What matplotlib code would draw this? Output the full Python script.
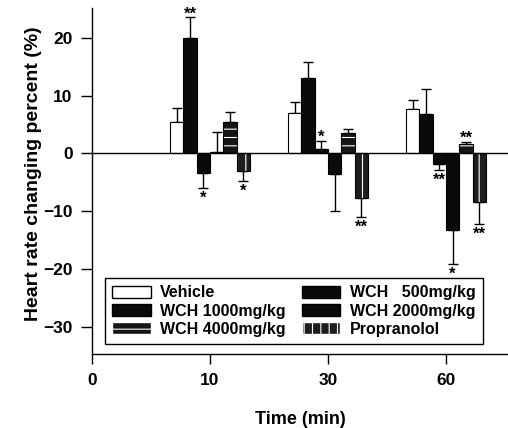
import matplotlib
matplotlib.use("Agg")
import matplotlib.pyplot as plt
import matplotlib.patches as mpatches
import numpy as np

# time points (min) and treatment groups
times = ["0", "10", "30", "60"]
groups = ["Vehicle", "WCH   500mg/kg", "WCH 1000mg/kg", "WCH 2000mg/kg",
          "WCH 4000mg/kg", "Propranolol"]

# mean heart rate change (%) at 10, 30, 60 min, one list per group
vehicle = [5.4, 6.9, 7.7]
wch500 = [19.9, 13.0, 6.8]
wch1000 = [-3.4, 0.8, -1.8]
wch2000 = [0.3, -3.5, -13.2]
wch4000 = [5.4, 3.5, 1.6]
propranolol = [-3.0, -7.7, -8.4]

# SEM
vehicle_err = [2.4, 2.0, 1.5]
wch500_err = [3.6, 2.8, 4.3]
wch1000_err = [2.5, 1.4, 1.0]
wch2000_err = [3.4, 6.4, 5.9]
wch4000_err = [1.8, 0.7, 0.4]
propranolol_err = [1.8, 3.2, 3.8]

# significance marks
vehicle_sig = ["", "", ""]
wch500_sig = ["**", "", ""]
wch1000_sig = ["*", "*", "**"]
wch2000_sig = ["", "", "*"]
wch4000_sig = ["", "", "**"]
propranolol_sig = ["*", "**", "**"]

values = [vehicle, wch500, wch1000, wch2000, wch4000, propranolol]
errors = [vehicle_err, wch500_err, wch1000_err, wch2000_err, wch4000_err, propranolol_err]
sigs = [vehicle_sig, wch500_sig, wch1000_sig, wch2000_sig, wch4000_sig, propranolol_sig]

# look of each group: face, hatch
styles = [("white", None), ("#0a0a0a", None), ("#0a0a0a", None), ("#0a0a0a", None),
          ("#151515", "--"), ("#1e1e1e", "||")]

plt.rcParams["font.family"] = ["Liberation Sans", "DejaVu Sans"]
plt.rcParams["font.weight"] = "bold"
plt.rcParams["hatch.linewidth"] = 0.8

fig = plt.figure(figsize=(5.08, 4.28), dpi=100)
ax = fig.add_axes([92 / 508, 74 / 428, 416 / 508, 346 / 428])

x = np.arange(1, 4)
w = 0.113
for i in range(6):
    pos = x + (i - 2.5) * w
    vals = np.array(values[i])
    errs = np.array(errors[i])
    face, hatch = styles[i]
    if hatch:
        ax.bar(pos, vals, w, color=face, edgecolor="white", hatch=hatch, linewidth=0, zorder=2)
        ax.bar(pos, vals, w, fill=False, edgecolor="black", linewidth=0.8, zorder=3)
    else:
        ax.bar(pos, vals, w, color=face, edgecolor="black", linewidth=0.8, zorder=2)
    lower = np.where(vals < 0, errs, 0)
    upper = np.where(vals >= 0, errs, 0)
    ax.errorbar(pos, vals, yerr=[lower, upper], fmt="none", ecolor="black",
                elinewidth=1, capsize=3.6, capthick=1, zorder=1)
    for p, v, e, s in zip(pos, vals, errs, sigs[i]):
        if not s:
            continue
        if v >= 0:
            ax.annotate(s, (p, v + e), xytext=(0, -3), textcoords="offset points",
                        ha="center", va="bottom", fontsize=12)
        else:
            ax.annotate(s, (p, v - e), xytext=(0, -2), textcoords="offset points",
                        ha="center", va="top", fontsize=12)

ax.axhline(0, color="black", linewidth=1, zorder=4)

ax.set_xlim(0, 416 / 118)
ax.set_ylim(-34.6, 25.1)
ax.set_xticks(range(4))
ax.set_xticklabels(times)
ax.set_yticks([-30, -20, -10, 0, 10, 20])
ax.tick_params(axis="both", direction="out", width=1, labelsize=12.5)
ax.tick_params(axis="x", length=7, pad=7)
ax.tick_params(axis="y", length=8, pad=6)
for side in ["top", "right"]:
    ax.spines[side].set_visible(False)
for side in ["left", "bottom"]:
    ax.spines[side].set_linewidth(1)

ax.set_xlabel("Time (min)", fontsize=13, fontweight="bold")
ax.set_ylabel("Heart rate changing percent (%)", fontsize=14, fontweight="bold")
ax.xaxis.set_label_coords(0.5, -0.165)
ax.yaxis.set_label_coords(-0.12, 0.52)

# legend: vehicle, 1000, 4000 in the first column; 500, 2000, propranolol in the second
order = [0, 2, 4, 1, 3, 5]
handles = []
for i in order:
    face, hatch = styles[i]
    if hatch:
        handles.append(mpatches.Patch(facecolor=face, edgecolor="white", hatch=hatch, label=groups[i]))
    else:
        handles.append(mpatches.Patch(facecolor=face, edgecolor="black", label=groups[i]))
leg = ax.legend(handles=handles, ncol=2, loc="lower left",
                bbox_to_anchor=(97 / 508, 76 / 428, 394 / 508, 65 / 428),
                bbox_transform=fig.transFigure, mode="expand",
                fontsize=11.5, handlelength=2.4, handleheight=0.8, handletextpad=0.6,
                labelspacing=0.2, borderpad=0.45, fancybox=False, framealpha=1,
                edgecolor="black")
leg.get_frame().set_linewidth(1)

fig.savefig("out.png", dpi=100)
